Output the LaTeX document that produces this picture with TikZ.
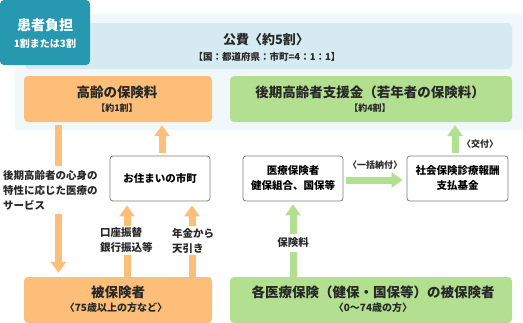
\documentclass[tikz,border=0pt]{standalone}
\usepackage{fontspec}
\setmainfont{Noto Sans CJK JP}
\usetikzlibrary{arrows.meta}
\definecolor{tealC}{RGB}{38,153,176}
\definecolor{paleC}{RGB}{240,248,252}
\definecolor{lblueC}{RGB}{214,235,241}
\definecolor{orangeC}{RGB}{253,190,122}
\definecolor{greenC}{RGB}{179,223,144}
\definecolor{borderC}{RGB}{125,125,125}
\definecolor{txtC}{RGB}{40,40,40}
\newcommand\fsz[1]{\fontsize{#1}{#1}\selectfont\bfseries}
\begin{document}
\begin{tikzpicture}[x=1pt,y=-1pt,
  panel/.style={rectangle, rounded corners=4pt, inner sep=0pt, draw=none},
  wbox/.style={rectangle, rounded corners=3pt, inner sep=0pt, draw=borderC, line width=0.8pt, fill=white, minimum width=100pt, minimum height=45pt},
  txt/.style={inner sep=0pt, text=txtC},
  lbl/.style={inner sep=2pt, text=txtC, fill=white, align=left, font=\fontsize{10.5}{15}\selectfont\bfseries},
  oarr/.style={draw=orangeC, line width=7pt, -{Triangle[width=15pt,length=11pt]}},
  garr/.style={draw=greenC, line width=7pt, -{Triangle[width=15pt,length=11pt]}}
]
\useasboundingbox (0,0) rectangle (523,322);
% backgrounds
\node[panel, rounded corners=2pt, fill=paleC, minimum width=508pt, minimum height=116pt] (bg) at (269,72) {};
\node[panel, fill=lblueC, minimum width=487pt, minimum height=46pt] (kohi) at (268.5,46) {};
\node[txt, font=\fsz{13}] (kohiT) at (266,40) {公費〈約5割〉};
\node[txt, font=\fsz{9.5}] (kohiS) at (267,56.5) {【国：都道府県：市町=4：1：1】};
% patient burden
\node[panel, fill=tealC, minimum width=90pt, minimum height=65pt] (patient) at (45,32.5) {};
\node[txt, text=white, font=\fsz{14}] (patientT) at (45,25) {患者負担};
\node[txt, text=white, font=\fsz{10}] (patientS) at (45,44) {1割または3割};
% top boxes
\node[panel, fill=orangeC, minimum width=188pt, minimum height=46pt] (prem) at (118,99) {};
\node[txt, font=\fsz{13.5}] (premT) at (117,92) {高齢の保険料};
\node[txt, font=\fsz{9}] (premS) at (117,108) {【約1割】};
\node[panel, fill=greenC, minimum width=282pt, minimum height=46pt] (supp) at (371,99) {};
\node[txt, font=\fsz{13.5}] (suppT) at (370,92) {後期高齢者支援金（若年者の保険料）};
\node[txt, font=\fsz{9}] (suppS) at (370,108) {【約4割】};
% middle boxes
\node[wbox, font=\fsz{10.5}] (city) at (160,178.5) {お住まいの市町};
\node[wbox, font=\fontsize{10.5}{15}\selectfont\bfseries, align=center] (insurer) at (293,178.5) {医療保険者\\健保組合、国保等};
\node[wbox, minimum width=101pt, font=\fontsize{10.5}{15}\selectfont\bfseries, align=center] (fund) at (457.5,178.5) {社会保険診療報酬\\支払基金};
% bottom boxes
\node[panel, fill=orangeC, minimum width=188pt, minimum height=46pt] (insured) at (118,300) {};
\node[txt, font=\fsz{13.5}] (insuredT) at (118,292) {被保険者};
\node[txt, font=\fsz{10}] (insuredS) at (116,307.5) {〈75歳以上の方など〉};
\node[panel, fill=greenC, minimum width=282pt, minimum height=46pt] (young) at (371,300) {};
\node[txt, font=\fsz{13.5}] (youngT) at (373,292) {各医療保険（健保・国保等）の被保険者};
\node[txt, font=\fsz{10}] (youngS) at (373,307.5) {〈0〜74歳の方〉};
% x positions
\coordinate (xL) at (58.5,0);
\coordinate (xA) at (127,0);
\coordinate (xB) at (192,0);
\coordinate (xC) at (162,0);
\coordinate (xG) at (293,0);
\coordinate (xK) at (455,0);
% orange arrows
\draw[oarr] ([yshift=-3pt]prem.south -| xL) -- ([yshift=4pt]insured.north -| xL);
\draw[oarr] ([yshift=3pt]city.north -| xC) -- ([yshift=-3pt]prem.south -| xC);
\draw[oarr] (insured.north -| xA) -- ([yshift=-4pt]city.south -| xA);
\draw[oarr] (insured.north -| xB) -- ([yshift=-4pt]city.south -| xB);
% green arrows
\draw[garr] (young.north -| xG) -- ([yshift=-3pt]insurer.south -| xG);
\draw[garr] ([xshift=3pt,yshift=-1.5pt]insurer.east) -- ([xshift=-4pt,yshift=-1.5pt]fund.west);
\draw[garr] ([yshift=3pt]fund.north -| xK) -- ([yshift=-3pt]supp.south -| xK);
% labels
\node[lbl, anchor=west, inner ysep=4pt] (svc) at (1,190) {後期高齢者の心身の\\特性に応じた医療の\\サービス};
\node[lbl, anchor=west] (bank) at (98,240.5) {口座振替\\銀行振込等};
\node[lbl, anchor=west] (pension) at (170,240.5) {年金から\\天引き};
\node[lbl, font=\fsz{10.5}, inner ysep=4pt] (hoken) at (293,243) {保険料};
\node[txt, font=\fsz{9}] (ikkatsu) at (375,165) {〈一括納付〉};
\node[txt, font=\fsz{9}] (kofu) at (480,144) {〈交付〉};
\end{tikzpicture}
\end{document}
